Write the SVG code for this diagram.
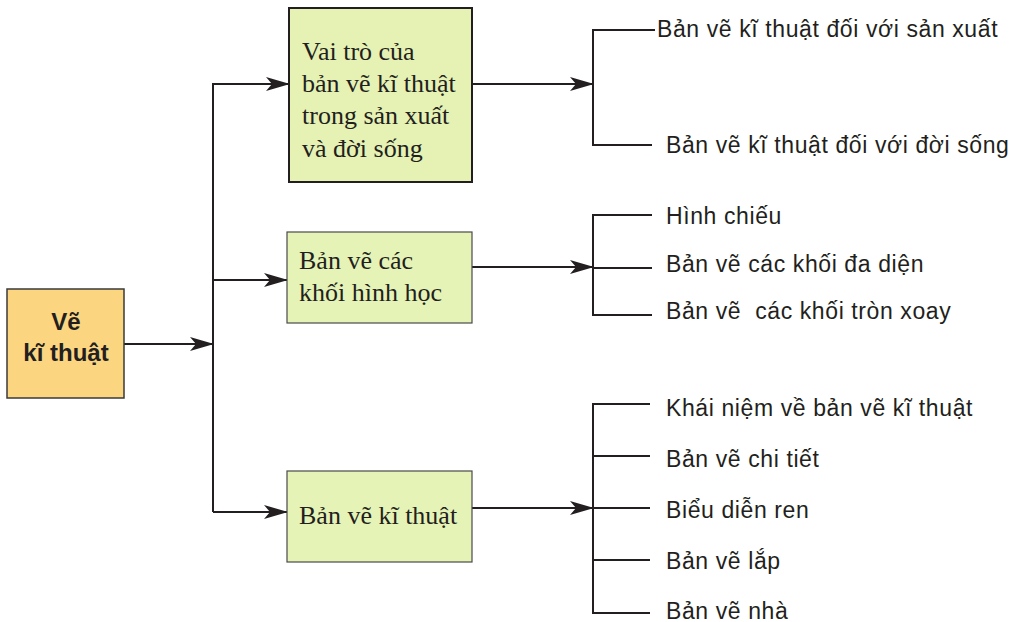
<svg xmlns="http://www.w3.org/2000/svg" width="1019" height="622" viewBox="0 0 1019 622">
<style>
.ln{stroke:#231f20;stroke-width:2;fill:none}
.ar{stroke:#231f20;stroke-width:2;fill:none;marker-end:url(#ah)}
.root{fill:#fcd581;stroke:#3a3a3a;stroke-width:1.5}
.b1{fill:#e6f2b4;stroke:#231f20;stroke-width:2}
.b2{fill:#e6f3b6;stroke:#4a4a4a;stroke-width:1.2}
.rt{font-family:"Liberation Sans",Arial,sans-serif;font-weight:bold;font-size:24px;fill:#231f20;text-anchor:middle}
.st{font-family:"Liberation Serif","Times New Roman",serif;font-size:26px;fill:#231f20}
.lt{font-family:"Liberation Sans",Arial,sans-serif;font-size:23px;letter-spacing:0.6px;fill:#231f20;white-space:pre}
</style>
<defs>
<marker id="ah" viewBox="0 0 24 14" refX="23" refY="7" markerWidth="24" markerHeight="14" markerUnits="userSpaceOnUse" orient="auto">
<path d="M0,0 L24,7 L0,14 L6,7 z" fill="#231f20"/>
</marker>
</defs>
<g id="connectors">
<path class="ar" d="M124,344 H213"/>
<path class="ln" d="M213,83 V512"/>
<path class="ar" d="M213,84 H289"/>
<path class="ar" d="M213,280 H287"/>
<path class="ar" d="M213,512 H287"/>
<path class="ar" d="M472,84 H593"/>
<path class="ln" d="M655,30 H593 V145 H652"/>
<path class="ar" d="M472,267 H593"/>
<path class="ln" d="M652,215 H593 V315 H652 M593,268 H652"/>
<path class="ar" d="M472,508 H593"/>
<path class="ln" d="M650,404 H593 V613 H650 M593,456 H650 M593,508 H650 M593,560 H650"/>
</g>
<g id="root">
<rect class="root" x="7" y="289" width="117" height="109"/>
<text class="rt" x="66" y="330">Vẽ</text>
<text class="rt" x="66" y="361">kĩ thuật</text>
</g>
<g id="n1">
<rect class="b1" x="289" y="8" width="183" height="174"/>
<text class="st" x="302" y="60">Vai trò của</text>
<text class="st" x="302" y="92">bản vẽ kĩ thuật</text>
<text class="st" x="302" y="124">trong sản xuất</text>
<text class="st" x="302" y="157">và đời sống</text>
</g>
<g id="n2">
<rect class="b2" x="287" y="232" width="185" height="91"/>
<text class="st" x="299" y="269">Bản vẽ các</text>
<text class="st" x="299" y="301">khối hình học</text>
</g>
<g id="n3">
<rect class="b2" x="287" y="471" width="185" height="91"/>
<text class="st" x="299" y="524">Bản vẽ kĩ thuật</text>
</g>
<g id="leaves1">
<text class="lt" x="657" y="37">Bản vẽ kĩ thuật đối với sản xuất</text>
<text class="lt" x="666" y="153">Bản vẽ kĩ thuật đối với đời sống</text>
</g>
<g id="leaves2">
<text class="lt" x="666" y="224">Hình chiếu</text>
<text class="lt" x="666" y="272">Bản vẽ các khối đa diện</text>
<text class="lt" x="666" y="319">Bản vẽ  các khối tròn xoay</text>
</g>
<g id="leaves3">
<text class="lt" x="666" y="416">Khái niệm về bản vẽ kĩ thuật</text>
<text class="lt" x="666" y="467">Bản vẽ chi tiết</text>
<text class="lt" x="666" y="518">Biểu diễn ren</text>
<text class="lt" x="666" y="569">Bản vẽ lắp</text>
<text class="lt" x="666" y="619">Bản vẽ nhà</text>
</g>
</svg>
